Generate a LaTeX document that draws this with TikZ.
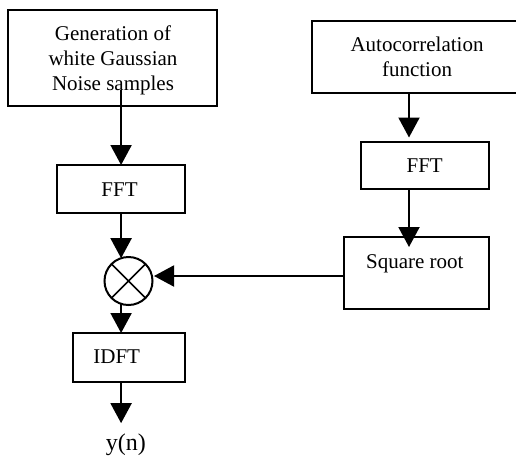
\documentclass[tikz,border=0pt]{standalone}
\usepackage{fontspec}
\setmainfont{Liberation Serif}
\usetikzlibrary{arrows.meta}
\begin{document}
\begin{tikzpicture}[x=1pt,y=-1pt,
  box/.style={draw=black, line width=2pt, rectangle, outer sep=0pt, inner sep=0pt},
  mulc/.style={draw=black, line width=2pt, circle, outer sep=0pt, inner sep=0pt, minimum size=48pt},
  lbl/.style={anchor=base, inner sep=0pt, font=\fontsize{21}{24.8}\selectfont, align=center},
  arr/.style={line width=2pt, -{Triangle[length=20pt,width=21pt]}}]
\useasboundingbox (0,0) rectangle (516,456);
\begin{scope}
\clip (0,0) rectangle (516,456);
% boxes
\node[box, minimum width=209pt, minimum height=96pt] (gen) at (112.5,58) {};
\node[box, minimum width=128pt, minimum height=48pt] (fft1) at (121,189) {};
\node[mulc] (mul) at (128.5,281) {};
\node[box, minimum width=112pt, minimum height=49pt] (idft) at (129,357.5) {};
\node[box, minimum width=209pt, minimum height=72pt] (auto) at (416.5,57) {};
\node[box, minimum width=128pt, minimum height=47pt] (fft2) at (425,165.5) {};
\node[box, minimum width=145pt, minimum height=72pt] (sqrt) at (416.5,273) {};
\end{scope}
% multiply cross
\draw[line width=1.6pt] (mul.45) -- (mul.225) (mul.135) -- (mul.315);
% texts (anchor=base is the baseline of the last line)
\node[lbl] (gent) at (113,90.3) {Generation of\\white Gaussian\\Noise samples};
\node[lbl] (fft1t) at (119.5,196.5) {FFT};
\node[lbl] (idftt) at (116.7,363.3) {IDFT};
\node[lbl, font=\fontsize{24}{28}\selectfont] (yn) at (125.8,450) {y(n)};
\node[lbl] (autot) at (417,76.7) {Autocorrelation\\function};
\node[lbl] (fft2t) at (424.7,172.7) {FFT};
\node[lbl] (sqrtt) at (414.8,268.3) {Square root};
% connectors
\coordinate (colR) at (409,0);
\coordinate (hrow) at (0,276);
\draw[arr] ([yshift=16pt]gen.south -| mul.108) -- (fft1.north -| mul.108);
\draw[arr] (fft1.south -| mul.108) -- (mul.108);
\draw[arr] (mul.252) -- (idft.north -| mul.252);
\draw[arr] (idft.south -| mul.252) -- ([yshift=10pt]yn.north -| mul.252);
\draw[arr] (auto.south -| colR) -- ([yshift=4.5pt]fft2.north -| colR);
\draw[arr] (fft2.south -| colR) -- ([yshift=-10pt]sqrt.north -| colR);
\draw[arr] (sqrt.west |- hrow) -- ([xshift=1.5pt]mul.east |- hrow);
\end{tikzpicture}
\end{document}
